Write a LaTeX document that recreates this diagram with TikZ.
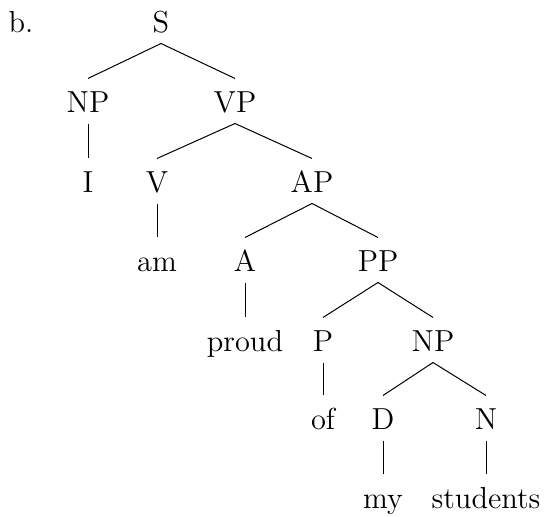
\documentclass[tikz,border=0pt]{standalone}
\begin{document}
\begin{tikzpicture}[x=0.5pt,y=-0.5pt,
  lab/.style={anchor=base,scale=1.267,transform shape,inner xsep=0pt,inner ysep=3.95pt,text height=9.47pt,text depth=0pt,font=\fontsize{12}{14}\selectfont},
  edge/.style={line width=0.5pt}]
\useasboundingbox (0,0) rectangle (546,517);
\node[anchor=base west,inner sep=0pt,scale=1.267,transform shape,font=\fontsize{12}{14}\selectfont] (ex) at (8,33) {b.};
\node[lab] (S) at (161,33) {S};
\node[lab] (NP) at (88,113) {NP};
\node[lab] (VP) at (235,113) {VP};
\node[lab] (I) at (88,193) {I};
\node[lab] (V) at (157,193) {V};
\node[lab] (AP) at (312,193) {AP};
\node[lab] (am) at (157,272) {am};
\node[lab] (A) at (245,272) {A};
\node[lab] (PP) at (378,272) {PP};
\node[lab] (proud) at (245,352) {proud};
\node[lab] (P) at (323,352) {P};
\node[lab] (NPb) at (433,352) {NP};
\node[lab] (of) at (323,430) {of};
\node[lab] (D) at (383,430) {D};
\node[lab] (N) at (486,430) {N};
\node[lab] (my) at (383,509) {my};
\node[lab] (students) at (486,509) {students};
\foreach \a/\b in {S/NP,S/VP,NP/I,VP/V,VP/AP,V/am,AP/A,AP/PP,A/proud,PP/P,PP/NPb,P/of,NPb/D,NPb/N,D/my,N/students}
  \draw[edge] (\a.south) -- (\b.north);
\end{tikzpicture}
\end{document}
